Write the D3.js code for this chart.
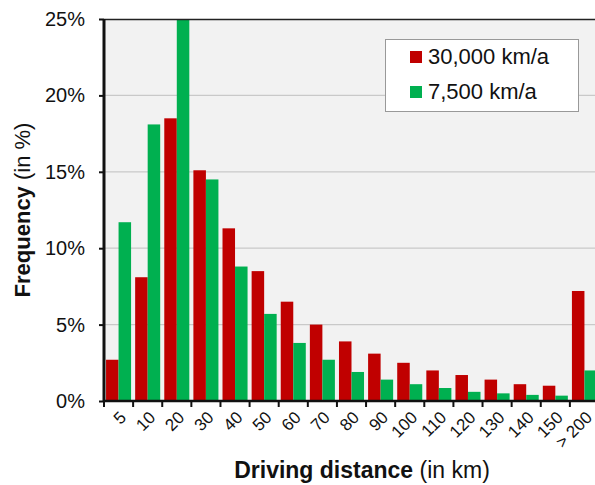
<!DOCTYPE html>
<html>
<head>
<meta charset="utf-8">
<script src="https://cdn.jsdelivr.net/npm/d3@7"></script>
<style>
  body { margin: 0; background: #fff; }
  text { font-family: Arial, "Liberation Sans", sans-serif; }
</style>
</head>
<body>
<svg width="595" height="485"></svg>
<script>
// distance classes (km)
var categories = ["5", "10", "20", "30", "40", "50", "60", "70", "80", "90", "100", "110", "120", "130", "140", "150", "> 200"];
// frequency in % for each annual mileage
var high = [2.7, 8.1, 18.5, 15.1, 11.3, 8.5, 6.5, 5.0, 3.9, 3.1, 2.5, 2.0, 1.7, 1.4, 1.1, 1.0, 7.2];   // 30,000 km/a
var low  = [11.7, 18.1, 25.0, 14.5, 8.8, 5.7, 3.8, 2.7, 1.9, 1.4, 1.1, 0.85, 0.6, 0.5, 0.4, 0.35, 2.0]; // 7,500 km/a
var yTicks = [0, 5, 10, 15, 20, 25];
var seriesNames = ["30,000 km/a", "7,500 km/a"];
var colors = ["#c00000", "#00b050"];

var svg = d3.select("svg");
var plotLeft = 104, plotRight = 599, plotTop = 19, plotBottom = 401;

var x = d3.scaleBand()
    .domain(categories)
    .range([plotLeft, plotRight])
    .paddingInner(0.14)
    .paddingOuter(0.07);

var sub = d3.scaleBand()
    .domain([0, 1])
    .range([0, x.bandwidth()]);

var y = d3.scaleLinear()
    .domain([0, 25])
    .range([plotBottom, plotTop]);

// plot background
svg.append("rect")
    .attr("x", plotLeft).attr("y", plotTop)
    .attr("width", plotRight - plotLeft).attr("height", plotBottom - plotTop)
    .attr("fill", "#f2f2f2");

// gridlines
svg.append("g").selectAll("line")
  .data(yTicks.filter(function(d) { return d > 0 && d < 25; }))
  .enter().append("line")
    .attr("x1", plotLeft).attr("x2", plotRight)
    .attr("y1", function(d) { return y(d); })
    .attr("y2", function(d) { return y(d); })
    .attr("stroke", "#c9c9c9")
    .attr("stroke-width", 1.2);

// bars
var data = categories.map(function(c, i) { return {cat: c, vals: [high[i], low[i]]}; });

var groups = svg.append("g").selectAll("g")
  .data(data)
  .enter().append("g")
    .attr("transform", function(d) { return "translate(" + x(d.cat) + ",0)"; });

groups.selectAll("rect")
  .data(function(d) { return d.vals; })
  .enter().append("rect")
    .attr("x", function(d, i) { return sub(i); })
    .attr("width", sub.bandwidth())
    .attr("y", function(d) { return y(d); })
    .attr("height", function(d) { return plotBottom - y(d); })
    .attr("fill", function(d, i) { return colors[i]; });

// top border
svg.append("line")
    .attr("x1", plotLeft).attr("x2", plotRight)
    .attr("y1", plotTop + 0.5).attr("y2", plotTop + 0.5)
    .attr("stroke", "#222").attr("stroke-width", 1.3);

// y axis
var yAxis = svg.append("g")
    .attr("transform", "translate(" + plotLeft + ",0)")
    .call(d3.axisLeft(y)
        .tickValues(yTicks)
        .tickSize(5)
        .tickSizeOuter(0)
        .tickPadding(14)
        .tickFormat(function(d) { return d + "%"; }));
yAxis.select(".domain").remove();
yAxis.selectAll(".tick line").attr("stroke", "#111").attr("stroke-width", 2);
yAxis.selectAll("text")
    .attr("font-size", 20)
    .attr("fill", "#111");

svg.append("line")
    .attr("x1", plotLeft).attr("x2", plotLeft)
    .attr("y1", plotTop).attr("y2", plotBottom + 1)
    .attr("stroke", "#111").attr("stroke-width", 3);

// x axis: baseline with ticks at class boundaries
svg.append("line")
    .attr("x1", plotLeft).attr("x2", plotRight)
    .attr("y1", plotBottom).attr("y2", plotBottom)
    .attr("stroke", "#111").attr("stroke-width", 2.5);

var bounds = categories.map(function(c) { return x(c) - x.step() * x.paddingInner() / 2; });
svg.append("g").selectAll("line")
  .data(bounds)
  .enter().append("line")
    .attr("x1", function(d) { return d; })
    .attr("x2", function(d) { return d; })
    .attr("y1", plotBottom).attr("y2", plotBottom + 6)
    .attr("stroke", "#111").attr("stroke-width", 2);

svg.append("g").selectAll("text")
  .data(categories)
  .enter().append("text")
    .attr("transform", function(d) {
      return "translate(" + (x(d) + x.bandwidth() / 2) + "," + (plotBottom + 9) + ") rotate(-45)";
    })
    .attr("text-anchor", "end")
    .attr("dy", "0.72em")
    .attr("font-size", 17)
    .attr("fill", "#111")
    .text(function(d) { return d; });

// axis titles
var xt = svg.append("text")
    .attr("x", 362).attr("y", 478)
    .attr("text-anchor", "middle")
    .attr("font-size", 23)
    .attr("fill", "#111");
xt.append("tspan").attr("font-weight", "bold").text("Driving distance");
xt.append("tspan").text("  (in km)");

var yt = svg.append("text")
    .attr("transform", "translate(30,210) rotate(-90)")
    .attr("text-anchor", "middle")
    .attr("font-size", 22)
    .attr("fill", "#111");
yt.append("tspan").attr("font-weight", "bold").text("Frequency");
yt.append("tspan").text(" (in %)");

// legend
var legend = svg.append("g").attr("transform", "translate(385,39)");
legend.append("rect")
    .attr("x", 0.5).attr("y", 0.5)
    .attr("width", 193).attr("height", 72)
    .attr("fill", "#fff")
    .attr("stroke", "#999").attr("stroke-width", 1);

seriesNames.forEach(function(name, i) {
  legend.append("rect")
      .attr("x", 25).attr("y", 12 + i * 35)
      .attr("width", 12).attr("height", 12)
      .attr("fill", colors[i]);
  legend.append("text")
      .attr("x", 43).attr("y", 25 + i * 35)
      .attr("font-size", 22)
      .attr("fill", "#111")
      .text(name);
});
</script>
</body>
</html>
